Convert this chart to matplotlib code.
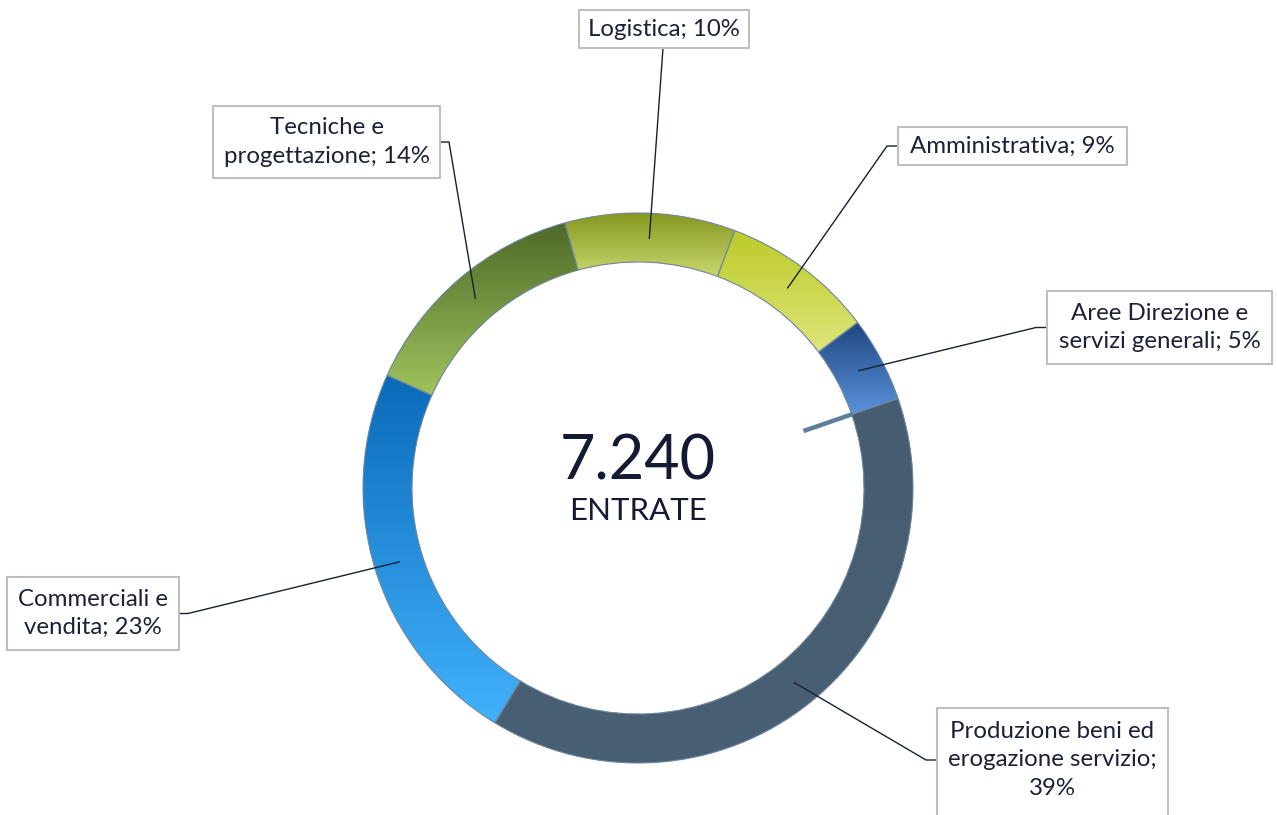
import numpy as np
import matplotlib
matplotlib.use('Agg')
import matplotlib.pyplot as plt
from matplotlib.patches import Wedge, Rectangle
from matplotlib.colors import LinearSegmentedColormap

plt.rcParams['font.family'] = ['Lato', 'DejaVu Sans']

# data
categories = ['Produzione beni ed\nerogazione servizio;\n39%',
              'Commerciali e\nvendita; 23%',
              'Tecniche e\nprogettazione; 14%',
              'Logistica; 10%',
              'Amministrativa; 9%',
              'Aree Direzione e\nservizi generali; 5%']
shares = [39, 23, 14, 10, 9, 5]
total = '7.240'
total_label = 'ENTRATE'

# gradient colours (top, bottom) for each slice
grad_colors = [('#465C71', '#495F74'),
               ('#0A6ABA', '#42B2FC'),
               ('#4D6828', '#A0C45E'),
               ('#84951C', '#CAD870'),
               ('#BBCA26', '#DEE67C'),
               ('#1D4480', '#5C93DC')]

# label boxes in pixel coords: (x0, y0, x1, y1)
boxes = [(937, 708, 1168, 830),
         (7, 577, 179, 650),
         (213, 106, 440, 178),
         (579, 10, 749, 48),
         (898, 127, 1127, 165),
         (1047, 291, 1272, 364)]
# side of the box the leader line arrives at
sides = ['left', 'right', 'right', 'bottom', 'left', 'left']

W, H = 1277, 815
fy = lambda y: H - y

fig = plt.figure(figsize=(W / 100, H / 100), dpi=100)
ax = fig.add_axes([0, 0, 1, 1])

cx, cy = 638, fy(488)
R, ring = 275, 49
start = 19

wedges, _ = ax.pie(shares, startangle=start, counterclock=False, center=(cx, cy),
                   radius=R, wedgeprops=dict(width=ring, linewidth=0))

for w, (ctop, cbot) in zip(wedges, grad_colors):
    th = np.radians(np.linspace(w.theta1, w.theta2, 100))
    xs = np.concatenate([cx + R * np.cos(th), cx + (R - ring) * np.cos(th)])
    ys = np.concatenate([cy + R * np.sin(th), cy + (R - ring) * np.sin(th)])
    cmap = LinearSegmentedColormap.from_list('g', [cbot, ctop])
    grad = np.linspace(0, 1, 256).reshape(-1, 1)
    im = ax.imshow(grad, extent=[xs.min() - 2, xs.max() + 2, ys.min() - 2, ys.max() + 2],
                   origin='lower', cmap=cmap, aspect='auto', zorder=2)
    im.set_clip_path(w)
    ax.add_patch(Wedge((cx, cy), R, w.theta1, w.theta2, width=ring, fill=False,
                       edgecolor='#7089A0', linewidth=0.8, zorder=3))

# stray radial tick at the first slice boundary
a = np.radians(start)
ax.plot([cx + 175 * np.cos(a), cx + 227 * np.cos(a)],
        [cy + 175 * np.sin(a), cy + 227 * np.sin(a)],
        color='#5F7E9C', linewidth=3.2, solid_capstyle='butt', zorder=3)

# labels with leader lines
for w, lab, (x0, y0, x1, y1), side in zip(wedges, categories, boxes, sides):
    mid = np.radians((w.theta1 + w.theta2) / 2)
    ax_, ay_ = cx + 250 * np.cos(mid), cy + 250 * np.sin(mid)
    ymid = (y0 + y1) / 2 if y1 <= H else 760
    if side == 'left':
        px = [ax_, x0 - 11, x0]
        py = [ay_, fy(ymid), fy(ymid)]
    elif side == 'right':
        px = [ax_, x1 + 9, x1]
        py = [ay_, fy(ymid), fy(ymid)]
    else:
        px = [ax_, (x0 + x1) / 2 - 1]
        py = [ay_, fy(y1)]
    ax.plot(px, py, color='#1A1F33', linewidth=1.0, zorder=4)
    ax.add_patch(Rectangle((x0, fy(y1)), x1 - x0, y1 - y0, facecolor='white',
                           edgecolor='#BFBFBF', linewidth=1.5, zorder=5))
    ax.text((x0 + x1) / 2, fy(ymid), lab, ha='center', va='center', fontsize=17.3,
            color='#1C2138', linespacing=1.45, zorder=6)

ax.text(cx, fy(462), total, ha='center', va='center', fontsize=44, color='#141A33')
ax.text(cx, fy(511), total_label, ha='center', va='center', fontsize=22.5, color='#141A33')

ax.set_xlim(0, W)
ax.set_ylim(0, H)
ax.set_aspect('equal')
ax.axis('off')
fig.savefig('out.png', dpi=100, facecolor='white')
